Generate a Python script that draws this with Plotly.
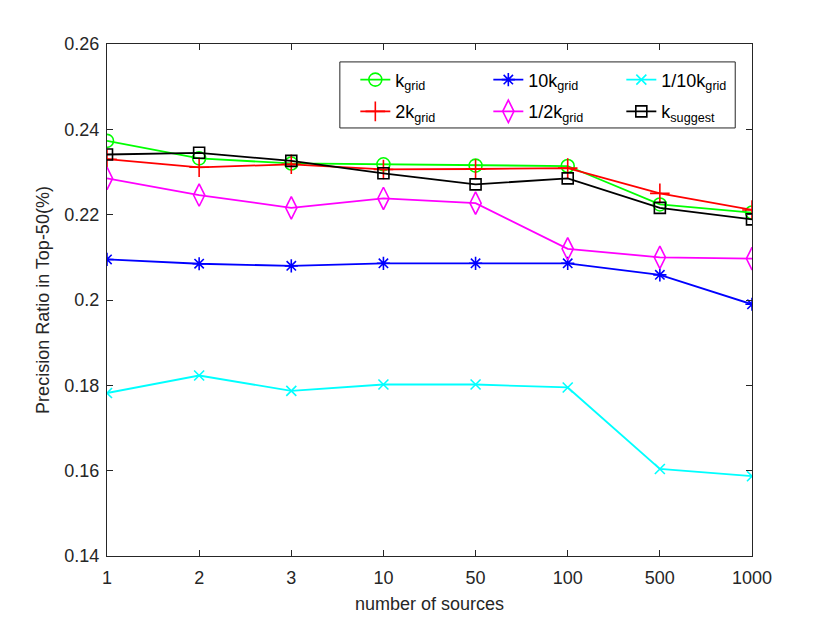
import plotly.graph_objects as go

# number of sources (categorical x axis)
sources = ['1', '2', '3', '10', '50', '100', '500', '1000']

# precision ratio for each k setting
k_grid = [0.2373, 0.2332, 0.2320, 0.2318, 0.2315, 0.2314, 0.2224, 0.2205]
k10_grid = [0.2095, 0.2085, 0.2080, 0.2086, 0.2086, 0.2086, 0.2059, 0.1990]
k1_10_grid = [0.1782, 0.1823, 0.1787, 0.1802, 0.1802, 0.1795, 0.1604, 0.1587]
k2_grid = [0.2330, 0.2311, 0.2318, 0.2306, 0.2307, 0.2309, 0.2250, 0.2211]
k1_2_grid = [0.2285, 0.2246, 0.2216, 0.2238, 0.2227, 0.2120, 0.2100, 0.2097]
k_suggest = [0.2341, 0.2345, 0.2326, 0.2297, 0.2271, 0.2285, 0.2216, 0.2189]

y_ticks = [0.14, 0.16, 0.18, 0.2, 0.22, 0.24, 0.26]
y_ticktext = ['0.14', '0.16', '0.18', '0.2', '0.22', '0.24', '0.26']

axis_color = '#262626'
fsize = 18

fig = go.Figure()


def add_line(y, name, color, symbol, size, legend):
    fig.add_trace(go.Scatter(
        x=sources, y=y, name=name, mode='lines+markers',
        line=dict(color=color, width=1.8),
        marker=dict(symbol=symbol, size=size, color=color,
                    line=dict(color=color, width=1.6)),
        legend=legend,
    ))


# first legend row
add_line(k_grid, 'k<sub>grid</sub>', '#00ff00', 'circle-open', 13, 'legend')
add_line(k10_grid, '10k<sub>grid</sub>', '#0000ff', 'asterisk-open', 11, 'legend')
add_line(k1_10_grid, '1/10k<sub>grid</sub>', '#00ffff', 'x-thin-open', 10, 'legend')
# second legend row
add_line(k2_grid, '2k<sub>grid</sub>', '#ff0000', 'cross-thin-open', 14, 'legend2')
add_line(k1_2_grid, '1/2k<sub>grid</sub>', '#ff00ff', 'diamond-tall-open', 16, 'legend2')
add_line(k_suggest, 'k<sub>suggest</sub>', '#000000', 'square-open', 11, 'legend2')

legend_style = dict(orientation='h', xanchor='left', yanchor='top',
                    bgcolor='rgba(0,0,0,0)', borderwidth=0,
                    entrywidth=88, entrywidthmode='pixels',
                    font=dict(family='Liberation Sans', size=fsize, color='#000000'),
                    itemclick=False, itemdoubleclick=False)

# page body has an 8px margin, so the plot area is offset by that much
fig.update_layout(
    width=830, height=623,
    margin=dict(l=99, r=86, t=36, b=75),
    paper_bgcolor='white', plot_bgcolor='white',
    font=dict(family='Liberation Sans', size=fsize, color=axis_color),
    showlegend=True,
    legend=dict(x=0.385, y=0.966, **legend_style),
    legend2=dict(x=0.385, y=0.904, **legend_style),
    shapes=[dict(type='rect', xref='paper', yref='paper',
                 x0=0.361, x1=0.974, y0=0.836, y1=0.965,
                 line=dict(color=axis_color, width=1),
                 fillcolor='white', layer='above')],
)

fig.update_xaxes(
    type='category', range=[0, 7],
    showline=True, linecolor=axis_color, linewidth=1, mirror='ticks',
    ticks='inside', ticklen=6, tickcolor=axis_color,
    showgrid=False, zeroline=False, ticklabelstandoff=5,
    tickfont=dict(size=fsize, color=axis_color),
    title=dict(text='number of sources', font=dict(size=fsize, color=axis_color),
               standoff=10),
)
fig.update_yaxes(
    range=[0.14, 0.26], tickvals=y_ticks, ticktext=y_ticktext,
    showline=True, linecolor=axis_color, linewidth=1, mirror='ticks',
    ticks='inside', ticklen=6, tickcolor=axis_color,
    showgrid=False, zeroline=False, ticklabelstandoff=3,
    tickfont=dict(size=fsize, color=axis_color),
    title=dict(text='Precision Ratio in Top-50(%)',
               font=dict(size=fsize, color=axis_color), standoff=10),
)

fig.write_html('out.html')
